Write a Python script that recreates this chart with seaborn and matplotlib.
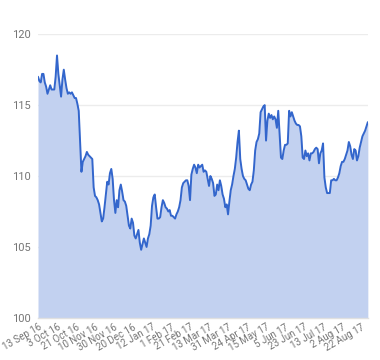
import matplotlib
matplotlib.use("Agg")
import matplotlib.pyplot as plt
import seaborn as sns
import pandas as pd
import numpy as np

values = [
    117.0, 116.7, 116.6, 117.2, 117.2, 116.6, 116.3, 115.8, 116.1, 116.4,
    116.1, 116.1, 116.1, 117.0, 118.5, 117.2, 116.4, 115.6, 116.8, 117.5,
    116.8, 116.2, 115.8, 115.9, 115.8, 115.9, 115.7, 115.5, 115.5, 115.1,
    114.6, 112.5, 110.3, 111.0, 111.2, 111.4, 111.7, 111.5, 111.4, 111.3,
    111.2, 109.2, 108.6, 108.5, 108.3, 108.0, 107.4, 106.8, 107.0, 107.8,
    108.7, 109.6, 109.4, 110.2, 110.5, 109.8, 108.3, 107.4, 108.3, 107.8,
    109.0, 109.4, 108.9, 108.3, 108.2, 107.9, 107.2, 106.5, 106.3, 107.0,
    106.7, 105.8, 105.6, 105.9, 106.2, 105.3, 104.8, 105.2, 105.6, 105.3,
    105.0, 105.6, 105.9, 106.5, 107.9, 108.5, 108.7, 107.8, 107.0, 107.0,
    107.1, 107.8, 108.3, 108.1, 107.8, 107.7, 107.5, 107.6, 107.2, 107.2,
    107.1, 107.0, 107.3, 107.5, 107.8, 108.3, 109.2, 109.5, 109.6, 109.7,
    109.7, 109.3, 108.3, 110.1, 110.5, 110.8, 110.6, 110.2, 110.8, 110.6,
    110.7, 110.8, 110.3, 110.4, 110.3, 109.8, 109.3, 110.0, 109.8, 109.5,
    108.6, 108.7, 109.4, 109.0, 109.7, 109.3, 108.7, 108.4, 107.8, 108.0,
    107.3, 108.2, 109.0, 109.4, 110.0, 110.5, 111.3, 112.4, 113.2, 111.2,
    110.5, 110.0, 109.8, 109.7, 109.4, 109.1, 109.0, 109.4, 109.6, 110.4,
    111.8, 112.4, 112.6, 113.0, 114.5, 114.7, 114.9, 115.0, 112.5, 113.9,
    114.4, 114.1, 114.3, 114.0, 114.2, 114.0, 113.4, 114.6, 113.0, 111.3,
    111.2, 111.8, 112.2, 112.2, 112.3, 114.6, 114.2, 114.5, 114.2, 113.9,
    113.7, 113.6, 113.6, 113.5, 112.8, 111.3, 111.2, 111.8, 111.4, 111.6,
    111.1, 111.6, 111.6, 111.7, 111.9, 112.0, 111.9, 110.9, 111.6, 111.8,
    112.3, 109.9, 109.2, 108.8, 108.8, 108.8, 109.7, 109.7, 109.8, 109.7,
    109.7, 109.9, 110.2, 110.7, 111.0, 111.0, 111.2, 111.5, 111.8, 112.4,
    112.1, 111.5, 111.2, 111.9, 111.8, 111.1, 111.4, 112.0, 112.4, 112.8,
    113.0, 113.2, 113.5, 113.8,
]

tick_labels = [
    "13 Sep 16", "3 Oct 16", "21 Oct 16", "10 Nov 16", "30 Nov 16",
    "20 Dec 16", "12 Jan 17", "1 Feb 17", "21 Feb 17", "13 Mar 17",
    "31 Mar 17", "24 Apr 17", "15 May 17", "5 Jun 17", "23 Jun 17",
    "13 Jul 17", "2 Aug 17", "22 Aug 17",
]
y_ticks = [100, 105, 110, 115, 120]

df = pd.DataFrame({"idx": np.arange(len(values)), "value": values})

sns.set_theme(style="white")
plt.rcParams["font.family"] = ["Roboto", "DejaVu Sans"]

fig = plt.figure(figsize=(3.8, 3.6), dpi=100)
ax = fig.add_axes([0.1, 0.117, 0.868, 0.788])

line_color = "#3366cc"
ax.fill_between(df["idx"], df["value"], 100, color="#c2d1f0", linewidth=0, zorder=2)
sns.lineplot(data=df, x="idx", y="value", ax=ax, color=line_color, linewidth=1.4, zorder=3)

ax.set_xlim(0, len(values) - 1)
ax.set_ylim(100, 120)
ax.set_yticks(y_ticks)
ax.set_yticklabels([str(v) for v in y_ticks], fontsize=8, color="#757575")
ticks = list(range(0, len(values), 14))[:len(tick_labels)]
ax.set_xticks(ticks)
ax.set_xticklabels(tick_labels, rotation=30, ha="right", rotation_mode="anchor",
                   fontsize=7, color="#757575")
ax.tick_params(axis="both", length=0)
ax.tick_params(axis="y", pad=5)
ax.tick_params(axis="x", pad=3)
ax.grid(axis="y", color="#ececec", linewidth=1, zorder=1)
ax.set_axisbelow(True)
for s in ["top", "right", "left"]:
    ax.spines[s].set_visible(False)
ax.spines["bottom"].set_color("#e0e0e0")
ax.spines["bottom"].set_linewidth(1)
ax.set_xlabel("")
ax.set_ylabel("")

fig.savefig("out.png", dpi=100)
